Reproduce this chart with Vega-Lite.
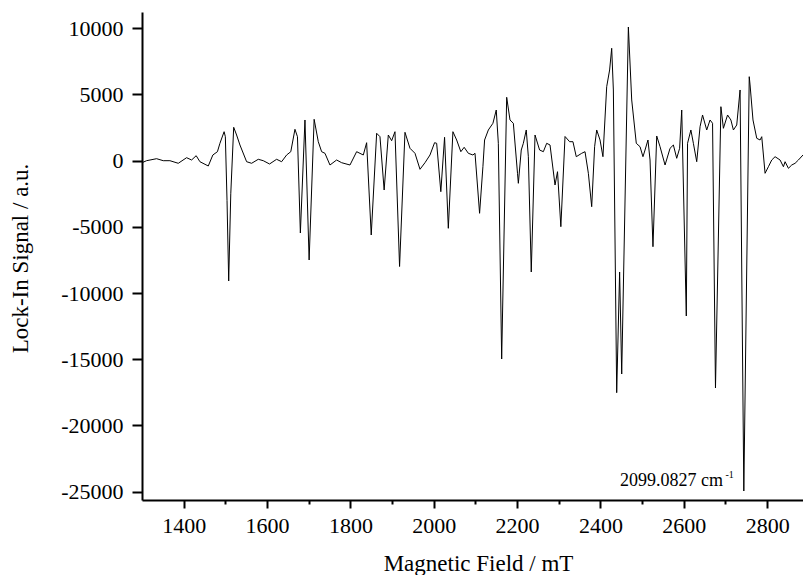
{
  "$schema": "https://vega.github.io/schema/vega-lite/v6.json",
  "width": 661,
  "height": 488,
  "autosize": {"type": "none"},
  "padding": {"left": 142, "top": 12, "right": 0, "bottom": 75},
  "background": "white",
  "config": {
    "view": {"stroke": null},
    "font": "Liberation Serif",
    "axis": {"labelFont": "Liberation Serif", "titleFont": "Liberation Serif"},
    "text": {"font": "Liberation Serif"}
  },
  "layer": [
    {
      "data": {"values": [
        {"mT":1300,"signal":-151},{"mT":1311,"signal":0},{"mT":1335,"signal":151},{"mT":1351,"signal":0},{"mT":1367,"signal":0},
        {"mT":1387,"signal":-196},{"mT":1407,"signal":227},{"mT":1419,"signal":53},{"mT":1430,"signal":378},{"mT":1439,"signal":-76},
        {"mT":1459,"signal":-400},{"mT":1470,"signal":431},{"mT":1481,"signal":680},{"mT":1487,"signal":1314},{"mT":1497,"signal":2190},
        {"mT":1500,"signal":1813},{"mT":1504,"signal":-3000},{"mT":1508,"signal":-9086},{"mT":1513,"signal":-2500},{"mT":1520,"signal":2523},{"mT":1527,"signal":1941},{"mT":1535,"signal":1186},
        {"mT":1551,"signal":-76},{"mT":1563,"signal":-196},{"mT":1579,"signal":106},{"mT":1591,"signal":0},{"mT":1606,"signal":-249},
        {"mT":1623,"signal":106},{"mT":1635,"signal":-76},{"mT":1647,"signal":431},{"mT":1657,"signal":680},{"mT":1667,"signal":2372},
        {"mT":1673,"signal":1813},{"mT":1680,"signal":-5461},{"mT":1691,"signal":3074},{"mT":1701,"signal":-7500},{"mT":1713,"signal":3127},
        {"mT":1723,"signal":1435},{"mT":1731,"signal":680},{"mT":1739,"signal":559},{"mT":1751,"signal":-325},{"mT":1767,"signal":53},
        {"mT":1779,"signal":-151},{"mT":1799,"signal":-325},{"mT":1815,"signal":680},{"mT":1831,"signal":431},{"mT":1839,"signal":1360},
        {"mT":1850,"signal":-5612},{"mT":1863,"signal":2070},{"mT":1871,"signal":1813},{"mT":1881,"signal":-2213},{"mT":1891,"signal":1941},
        {"mT":1899,"signal":1511},{"mT":1907,"signal":2190},{"mT":1918,"signal":-7991},{"mT":1931,"signal":2145},{"mT":1943,"signal":937},
        {"mT":1955,"signal":559},{"mT":1967,"signal":-650},{"mT":1979,"signal":-151},{"mT":1991,"signal":431},{"mT":2002,"signal":1360},
        {"mT":2007,"signal":1314},{"mT":2017,"signal":-2341},{"mT":2026,"signal":1767},{"mT":2035,"signal":-5106},{"mT":2046,"signal":2190},
        {"mT":2055,"signal":1563},{"mT":2065,"signal":680},{"mT":2073,"signal":1012},{"mT":2083,"signal":559},{"mT":2094,"signal":431},
        {"mT":2099,"signal":559},{"mT":2110,"signal":-3973},{"mT":2118,"signal":-453},{"mT":2122,"signal":1563},{"mT":2131,"signal":2319},
        {"mT":2142,"signal":2825},{"mT":2150,"signal":3829},{"mT":2155,"signal":1314},{"mT":2163,"signal":-14978},{"mT":2175,"signal":4789},
        {"mT":2183,"signal":3074},{"mT":2191,"signal":2825},{"mT":2201,"signal":-952},{"mT":2203,"signal":-1707},{"mT":2210,"signal":808},
        {"mT":2215,"signal":1314},{"mT":2222,"signal":2319},{"mT":2227,"signal":302},{"mT":2234,"signal":-8406},{"mT":2243,"signal":1941},
        {"mT":2254,"signal":808},{"mT":2263,"signal":680},{"mT":2271,"signal":1314},{"mT":2279,"signal":1186},{"mT":2291,"signal":-1835},
        {"mT":2297,"signal":-831},{"mT":2305,"signal":-4985},{"mT":2315,"signal":1828},{"mT":2326,"signal":1435},{"mT":2334,"signal":1435},
        {"mT":2342,"signal":302},{"mT":2355,"signal":559},{"mT":2363,"signal":680},{"mT":2371,"signal":-952},{"mT":2379,"signal":-3474},
        {"mT":2386,"signal":1057},{"mT":2391,"signal":2319},{"mT":2399,"signal":1563},{"mT":2406,"signal":302},{"mT":2415,"signal":5589},
        {"mT":2422,"signal":6851},{"mT":2427,"signal":8490},{"mT":2431,"signal":5340},{"mT":2439,"signal":-17523},{"mT":2446,"signal":-8406},
        {"mT":2451,"signal":-16111},{"mT":2467,"signal":10098},{"mT":2475,"signal":4585},{"mT":2486,"signal":1314},{"mT":2495,"signal":1057},
        {"mT":2502,"signal":302},{"mT":2507,"signal":808},{"mT":2514,"signal":1563},{"mT":2519,"signal":53},{"mT":2526,"signal":-6496},
        {"mT":2535,"signal":1866},{"mT":2543,"signal":1057},{"mT":2555,"signal":-325},{"mT":2567,"signal":937},{"mT":2575,"signal":1186},
        {"mT":2583,"signal":181},{"mT":2590,"signal":937},{"mT":2595,"signal":3829},{"mT":2606,"signal":-11730},{"mT":2609,"signal":1314},
        {"mT":2617,"signal":2319},{"mT":2623,"signal":1314},{"mT":2631,"signal":-76},{"mT":2639,"signal":2568},{"mT":2645,"signal":3452},
        {"mT":2655,"signal":2319},{"mT":2663,"signal":3074},{"mT":2669,"signal":2825},{"mT":2676,"signal":-17168},{"mT":2689,"signal":4079},
        {"mT":2695,"signal":2447},{"mT":2705,"signal":3452},{"mT":2713,"signal":3074},{"mT":2719,"signal":2319},{"mT":2727,"signal":2696},
        {"mT":2735,"signal":5340},{"mT":2744,"signal":-24948},{"mT":2757,"signal":6345},{"mT":2759,"signal":5718},{"mT":2766,"signal":3074},
        {"mT":2775,"signal":1692},{"mT":2783,"signal":1563},{"mT":2787,"signal":1813},{"mT":2795,"signal":-952},{"mT":2803,"signal":-453},
        {"mT":2811,"signal":53},{"mT":2819,"signal":302},{"mT":2831,"signal":53},{"mT":2839,"signal":-453},{"mT":2843,"signal":-76},
        {"mT":2851,"signal":-574},{"mT":2859,"signal":-325},{"mT":2867,"signal":-196},{"mT":2875,"signal":53},{"mT":2886,"signal":431}
      ]},
      "mark": {"type": "line", "color": "black", "strokeWidth": 1, "clip": true},
      "encoding": {
        "x": {
          "field": "mT", "type": "quantitative",
          "scale": {"domain": [1300, 2886], "nice": false, "zero": false},
          "axis": {
            "values": [1400,1500,1600,1700,1800,1900,2000,2100,2200,2300,2400,2500,2600,2700,2800],
            "labelExpr": "datum.value % 200 === 0 ? datum.value + '' : ''",
            "tickSize": {"condition": {"test": "datum.value % 200 === 0", "value": 8}, "value": 4},
            "grid": false,
            "domainColor": "black", "domainWidth": 2,
            "tickColor": "black", "tickWidth": 2,
            "labelFont": "Liberation Serif", "labelFontSize": 22, "labelColor": "black",
            "labelPadding": 7, "labelFlush": false, "labelOverlap": false,
            "title": "Magnetic Field / mT",
            "titleFont": "Liberation Serif", "titleFontSize": 23, "titleFontWeight": "normal", "titleColor": "black",
            "titleX": 336, "titleY": 70, "titleBaseline": "alphabetic", "titleAlign": "center"
          }
        },
        "y": {
          "field": "signal", "type": "quantitative",
          "scale": {"domain": [-25627, 11231], "nice": false, "zero": false},
          "axis": {
            "values": [-25000,-22500,-20000,-17500,-15000,-12500,-10000,-7500,-5000,-2500,0,2500,5000,7500,10000],
            "labelExpr": "datum.value % 5000 === 0 ? datum.value + '' : ''",
            "tickSize": {"condition": {"test": "datum.value % 5000 === 0", "value": 10}, "value": 5},
            "grid": false,
            "domainColor": "black", "domainWidth": 2,
            "tickColor": "black", "tickWidth": 2,
            "labelFont": "Liberation Serif", "labelFontSize": 22, "labelColor": "black",
            "labelPadding": 9, "labelFlush": false, "labelOverlap": false,
            "title": "Lock-In Signal / a.u.",
            "titleFont": "Liberation Serif", "titleFontSize": 23, "titleFontWeight": "normal", "titleColor": "black",
            "titleX": -122, "titleY": 246, "titleAngle": -90, "titleBaseline": "middle", "titleAlign": "center"
          }
        }
      }
    },
    {
      "data": {"values": [{"note": "2099.0827 cm", "pos": 2694, "level": -24570}]},
      "mark": {"type": "text", "align": "right", "baseline": "alphabetic", "font": "Liberation Serif", "fontSize": 18, "color": "black"},
      "encoding": {
        "x": {"field": "pos", "type": "quantitative"},
        "y": {"field": "level", "type": "quantitative"},
        "text": {"field": "note"}
      }
    },
    {
      "data": {"values": [{"note": "-1", "pos": 2700, "level": -23966}]},
      "mark": {"type": "text", "align": "left", "baseline": "alphabetic", "font": "Liberation Serif", "fontSize": 10, "color": "black"},
      "encoding": {
        "x": {"field": "pos", "type": "quantitative"},
        "y": {"field": "level", "type": "quantitative"},
        "text": {"field": "note"}
      }
    }
  ]
}
